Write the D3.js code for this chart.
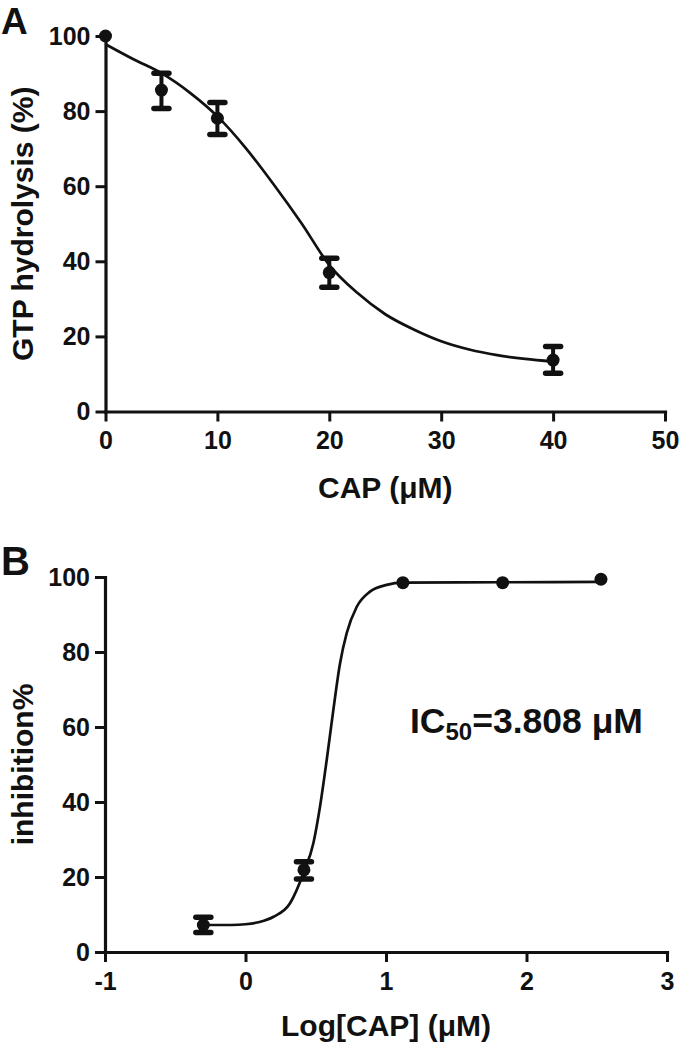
<!DOCTYPE html>
<html><head><meta charset="utf-8">
<script src="https://cdn.jsdelivr.net/npm/d3@7"></script>
<style>
body{margin:0;background:#fff}
text{font-family:"Liberation Sans",Arial,sans-serif;font-weight:bold;fill:#111}
</style>
</head><body>
<svg id="chart" width="680" height="1045"></svg>
<script>
// ---------- Panel A data ----------
const concA = [0, 5, 10, 20, 40];
const hydrolysisA = [100, 85.6, 78.1, 37.0, 13.7];
const errLowA = [null, 80.7, 73.8, 33.1, 10.2];
const errHighA = [null, 90.1, 82.3, 40.8, 17.3];
// fitted curve
const fitConcA = [0, 2.5, 5, 7.5, 10, 12.5, 15, 17.5, 20, 22.5, 25, 27.5, 30, 32.5, 35, 37.5, 40];
const fitHydrolysisA = [97.8, 93.8, 90.1, 85.0, 78.6, 70.3, 60.6, 50.2, 39.0, 31.6, 25.9, 21.9, 18.7, 16.5, 15.0, 14.0, 13.3];
const ticksXA = [0, 10, 20, 30, 40, 50];
const ticksYA = [0, 20, 40, 60, 80, 100];

// ---------- Panel B data ----------
const logConcB = [-0.30, 0.416, 1.12, 1.83, 2.53];
const inhibitionB = [7.2, 21.9, 98.5, 98.5, 99.4];
const errLowB = [5.2, 19.5, null, null, null];
const errHighB = [9.3, 24.1, null, null, null];
const fitLogConcB = [-0.30, -0.1, 0.0, 0.1, 0.2, 0.317, 0.416, 0.483, 0.53, 0.578, 0.625, 0.673, 0.72, 0.791, 0.886, 1.005, 1.12, 1.83, 2.53];
const fitInhibitionB = [7.2, 7.2, 7.4, 8.0, 9.4, 13.0, 21.4, 29.0, 38.7, 51.2, 64.5, 77.0, 85.0, 92.0, 96.1, 97.9, 98.5, 98.6, 98.7];
const ticksXB = [-1, 0, 1, 2, 3];
const ticksYB = [0, 20, 40, 60, 80, 100];

const svg = d3.select("#chart");
const INK = "#111";

function panel(opts) {
  const g = svg.append("g");
  const x = d3.scaleLinear().domain(opts.xDomain).range(opts.xRange);
  const y = d3.scaleLinear().domain([0, 100]).range(opts.yRange);

  // curve
  const line = d3.line().x(d => x(d[0])).y(d => y(d[1])).curve(d3.curveMonotoneX);
  g.append("path")
    .datum(opts.fitX.map((v, i) => [v, opts.fitY[i]]))
    .attr("d", line).attr("fill", "none").attr("stroke", INK).attr("stroke-width", 2.7);

  // axes
  const styleAxis = (sel, size) => {
    sel.select(".domain").attr("stroke", INK).attr("stroke-width", 3.2).attr("stroke-linecap", "square");
    sel.selectAll(".tick line").attr("stroke", INK).attr("stroke-width", 3);
    sel.selectAll(".tick text").attr("font-size", size).attr("font-family", "Liberation Sans, Arial, sans-serif")
      .attr("font-weight", "bold").attr("fill", INK);
    sel.attr("font-size", null).attr("font-family", null);
  };
  const xAxis = d3.axisBottom(x).tickValues(opts.ticksX).tickSize(10).tickSizeOuter(0).tickPadding(10)
    .tickFormat(d => String(d));
  const yAxis = d3.axisLeft(y).tickValues(opts.ticksY).tickSize(10).tickSizeOuter(0).tickPadding(5)
    .tickFormat(d => String(d));
  g.append("g").attr("transform", `translate(0,${opts.yRange[0]})`).call(xAxis).call(s => styleAxis(s, 25));
  g.append("g").attr("transform", `translate(${opts.xRange[0]},0)`).call(yAxis).call(s => styleAxis(s, 25));

  // error bars
  const eb = g.append("g").attr("stroke", INK);
  opts.px.forEach((xv, i) => {
    if (opts.lo[i] == null) return;
    const cx = x(xv);
    eb.append("line").attr("x1", cx).attr("x2", cx).attr("y1", y(opts.lo[i])).attr("y2", y(opts.hi[i]))
      .attr("stroke-width", 4);
    [opts.lo[i], opts.hi[i]].forEach(v => {
      eb.append("line").attr("x1", cx - 7.5).attr("x2", cx + 7.5).attr("y1", y(v)).attr("y2", y(v))
        .attr("stroke-width", 5.5).attr("stroke-linecap", "round");
    });
  });

  // points
  g.append("g").selectAll("circle").data(opts.px.map((v, i) => [v, opts.py[i]])).join("circle")
    .attr("cx", d => x(d[0])).attr("cy", d => y(d[1])).attr("r", 6.5).attr("fill", INK);

  // titles
  g.append("text").attr("x", (opts.xRange[0] + opts.xRange[1]) / 2).attr("y", opts.xTitleY)
    .attr("text-anchor", "middle").attr("font-size", 30).text(opts.xTitle);
  g.append("text")
    .attr("transform", `translate(33,${(opts.yRange[0] + opts.yRange[1]) / 2}) rotate(-90)`)
    .attr("text-anchor", "middle").attr("font-size", 30).text(opts.yTitle);
  g.append("text").attr("x", 1).attr("y", opts.letterY).attr("font-size", opts.letterSize).text(opts.letter);
  return {g, x, y};
}

panel({
  xDomain: [0, 50], xRange: [105.5, 665], yRange: [411.5, 36],
  fitX: fitConcA, fitY: fitHydrolysisA, ticksX: ticksXA, ticksY: ticksYA,
  px: concA, py: hydrolysisA, lo: errLowA, hi: errHighA,
  xTitle: "CAP (μM)", xTitleY: 498, yTitle: "GTP hydrolysis (%)", letter: "A", letterY: 34, letterSize: 37
});

const pB = panel({
  xDomain: [-1, 3], xRange: [105, 667], yRange: [952, 577],
  fitX: fitLogConcB, fitY: fitInhibitionB, ticksX: ticksXB, ticksY: ticksYB,
  px: logConcB, py: inhibitionB, lo: errLowB, hi: errHighB,
  xTitle: "Log[CAP] (μM)", xTitleY: 1036, yTitle: "inhibition%", letter: "B", letterY: 575, letterSize: 40
});

const ic = pB.g.append("text").attr("x", 410).attr("y", 733).attr("font-size", 35.5);
ic.append("tspan").text("IC");
ic.append("tspan").attr("font-size", 24).attr("dy", 7).text("50");
ic.append("tspan").attr("dy", -7).text("=3.808 μM");
</script>
</body></html>
